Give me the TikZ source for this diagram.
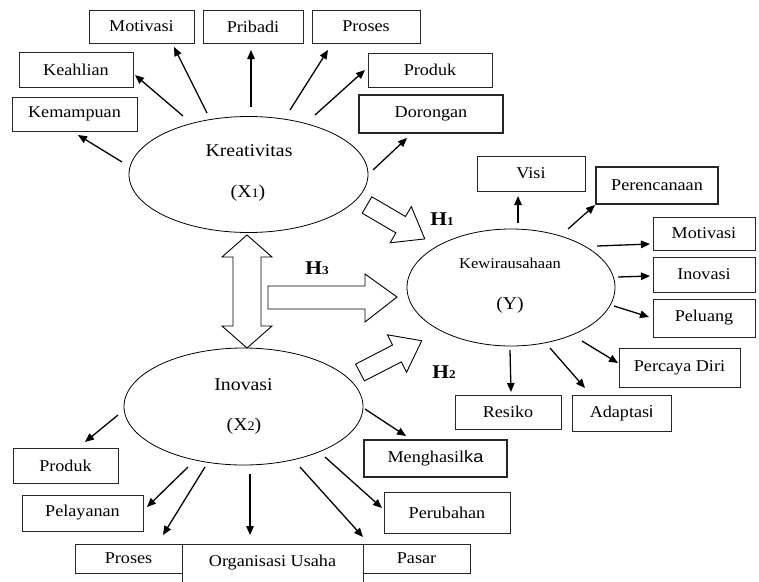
\documentclass[tikz,border=0pt]{standalone}
\usepackage{fontspec}
\setmainfont{Liberation Serif}[FakeStretch=1.1]
\newfontfamily\sansf{Liberation Sans}[FakeStretch=1.1]
\usetikzlibrary{arrows.meta,shapes.geometric}
\begin{document}
\begin{tikzpicture}[x=1pt,y=-1pt,
  box/.style={draw=black!85, line width=0.9pt, inner sep=0pt, fill=white,
    font=\fontsize{16.5}{18}\selectfont},
  thickbox/.style={box, line width=1.6pt},
  ell/.style={draw, ellipse, line width=0.8pt, inner sep=0pt},
  arr/.style={line width=1.3pt, -{Triangle[length=9pt,width=7.5pt]}},
  blk/.style={draw, line width=0.9pt, fill=white, line join=miter},
  hlab/.style={font=\fontsize{19.5}{20}\selectfont\bfseries},
  etext/.style={font=\fontsize{18}{20}\selectfont, inner sep=0pt},
  ktext/.style={font=\fontsize{15}{17}\selectfont, inner sep=0pt}
]
\useasboundingbox (0,0) rectangle (759,581);

% ellipses
\node[ell, minimum width=239pt, minimum height=116pt] (kre) at (248.5,174.5) {};
\node[ell, minimum width=239pt, minimum height=117pt] (ino) at (243.5,406.5) {};
\node[ell, minimum width=208pt, minimum height=117pt] (kew) at (511,287.5) {};
\node[etext] (kret) at (249,151) {Kreativitas};
\node[etext] (krex) at (248,193) {(X{\fontsize{13}{13}\selectfont 1})};
\node[etext] (inot) at (243.5,385) {Inovasi};
\node[etext] (inox) at (244,426) {(X{\fontsize{13}{13}\selectfont 2})};
\node[ktext] (kewt) at (510,263) {Kewirausahaan};
\node[etext] (kewy) at (510,305) {(Y)};

% boxes around Kreativitas
\node[box, minimum width=105pt, minimum height=33pt] (motA) at (141.5,26.5) {Motivasi};
\node[box, minimum width=100pt, minimum height=33pt] (pri) at (253,26.5) {Pribadi};
\node[box, minimum width=108pt, minimum height=33pt] (proA) at (366,26.5) {Proses};
\node[box, minimum width=114pt, minimum height=35pt] (kea) at (76,69.5) {Keahlian};
\node[box, minimum width=125pt, minimum height=34pt] (kem) at (74.5,114) {Kemampuan};
\node[box, minimum width=124pt, minimum height=34pt] (prdA) at (430,70) {Produk};
\node[thickbox, minimum width=144pt, minimum height=38pt] (dor) at (431,114) {Dorongan};

% boxes around Kewirausahaan
\node[box, minimum width=108pt, minimum height=35pt] (vis) at (531,173.5) {Visi};
\node[thickbox, minimum width=122pt, minimum height=37pt] (per) at (657,185.5) {Perencanaan};
\node[box, minimum width=102pt, minimum height=33pt] (motB) at (704,233.5) {Motivasi};
\node[box, minimum width=102pt, minimum height=35pt] (inoB) at (704,274.5) {Inovasi};
\node[box, minimum width=102pt, minimum height=38pt] (pel) at (704,318) {Peluang};
\node[box, minimum width=121pt, minimum height=39pt] (pcd) at (679.5,367.5) {Percaya Diri};
\node[box, minimum width=99pt, minimum height=36pt] (ada) at (621.5,413) {Adaptas{\sansf i}};
\node[box, minimum width=106pt, minimum height=34pt] (res) at (508,412) {Resiko};

% boxes around Inovasi
\node[thickbox, minimum width=143pt, minimum height=37pt] (men) at (435.5,458.5) {Menghasil{\sansf ka}};
\node[box, minimum width=126pt, minimum height=41pt] (peru) at (447,512.5) {Perubahan};
\node[box, minimum width=107pt, minimum height=29pt] (pas) at (416.5,558.5) {Pasar};
\node[box, minimum width=181pt, minimum height=38pt] (org) at (272.5,563) {Organisasi Usaha};
\node[box, minimum width=107pt, minimum height=29pt] (proB) at (128.5,558.5) {Proses};
\node[box, minimum width=105pt, minimum height=35pt] (prdB) at (65.5,465.5) {Produk};
\node[box, minimum width=121pt, minimum height=36pt] (pla) at (82.5,513) {Pelayanan};

% arrows from Kreativitas
\draw[arr] (122,162) -- (78,135);
\draw[arr] (183,116) -- (135,75);
\draw[arr] (207,113) -- (174,47);
\draw[arr] (251,107) -- (251,50);
\draw[arr] (290,110) -- (328,50);
\draw[arr] (315,115) -- (365,70);
\draw[arr] (373,170) -- (407,138);

% arrows from Kewirausahaan
\draw[arr] (518,223) -- (518,196);
\draw[arr] (568,229) -- (595,205);
\draw[arr] (597,246) -- (650,244);
\draw[arr] (618,277) -- (650,276);
\draw[arr] (614,306) -- (649,317);
\draw[arr] (582,341) -- (618,363);
\draw[arr] (550,348) -- (585,388);
\draw[arr] (510,350) -- (511,392);

% arrows from Inovasi
\draw[arr] (365,409) -- (406,436);
\draw[arr] (118,415) -- (85,442);
\draw[arr] (188,467) -- (147,507);
\draw[arr] (205,467) -- (163,535);
\draw[arr] (250,474) -- (250,535);
\draw[arr] (300,467) -- (363,537);
\draw[arr] (325,457) -- (382,508);

% block arrows
\draw[blk] (247,235) -- (272,257) -- (261,257) -- (261,326) -- (272,326) -- (247,348)
  -- (222,326) -- (233,326) -- (233,257) -- (222,257) -- cycle;
\draw[blk] (268,286) -- (365,286) -- (365,274) -- (397,297) -- (365,322) -- (365,309)
  -- (268,309) -- cycle;
\draw[blk] (362.2,213.2) -- (371.8,196.8) -- (405.5,216.5) -- (411.3,206.6) -- (424.8,238.9)
  -- (390.1,242.8) -- (395.9,232.9) -- cycle;
\draw[blk] (355.6,364.1) -- (392.6,345.0) -- (387.4,334.8) -- (421.7,340.7) -- (406.6,372.2)
  -- (401.4,361.9) -- (364.4,380.9) -- cycle;

% hypothesis labels
\node[hlab] (h1) at (442,219) {H{\fontsize{12}{12}\selectfont 1}};
\node[hlab] (h3) at (317,268) {H{\fontsize{12}{12}\selectfont 3}};
\node[hlab] (h2) at (444,372) {H{\fontsize{12}{12}\selectfont 2}};
\end{tikzpicture}
\end{document}
